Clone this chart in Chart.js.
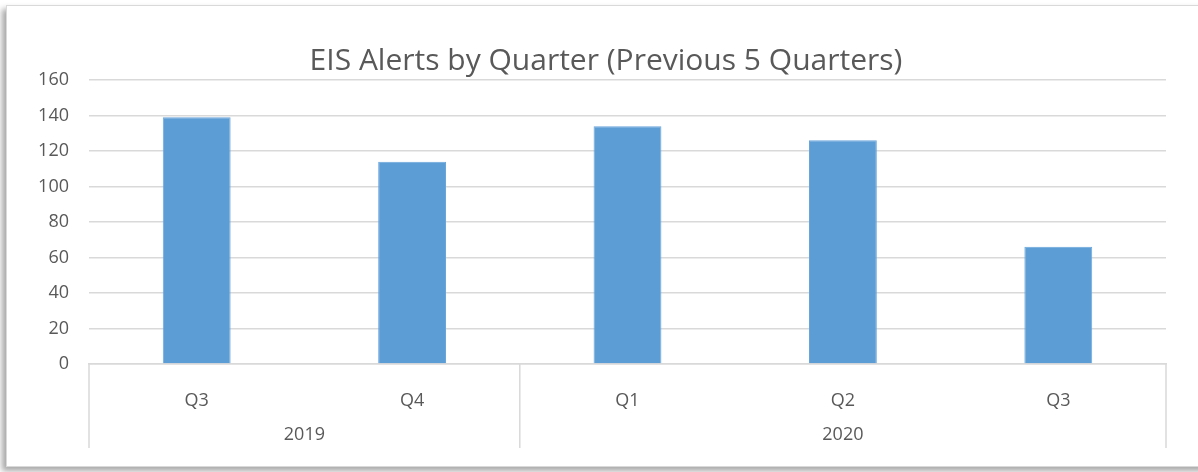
<!DOCTYPE html>
<html>
<head>
<meta charset="utf-8">
<script src="https://cdn.jsdelivr.net/npm/chart.js@4.4.1/dist/chart.umd.min.js"></script>
<style>
  html, body { margin: 0; padding: 0; background: #fff; overflow: hidden; }
  #frame {
    position: absolute; left: 6px; top: 5px; width: 1200px; height: 460px;
    border: 1px solid #d9d9d9; background: #fff;
    box-shadow: -4px 4px 6px rgba(0, 0, 0, 0.35);
  }
  #wrap { position: absolute; left: 0; top: 0; width: 1212px; height: 472px; }
</style>
</head>
<body>
<div id="frame"></div>
<div id="wrap"><canvas id="chart"></canvas></div>
<script>
const quarters = ["Q3", "Q4", "Q1", "Q2", "Q3"];
const years = ["2019", "2019", "2020", "2020", "2020"];
const alerts = [139, 114, 134, 126, 66];

const gridColor = "#d9d9d9";
const textColor = "#595959";
const fontFamily = "'Open Sans', sans-serif";

// second row of the category axis: year groups with separator lines
const yearGroups = {
  id: "yearGroups",
  afterDraw(chart) {
    const { ctx, chartArea, scales } = chart;
    const x = scales.x;
    const half = (x.getPixelForValue(1) - x.getPixelForValue(0)) / 2;
    const top = chartArea.bottom;
    const bottom = top + 84;

    const groups = [];
    years.forEach((y, i) => {
      const last = groups[groups.length - 1];
      if (last && last.label === y) last.end = i;
      else groups.push({ label: y, start: i, end: i });
    });

    ctx.save();
    ctx.strokeStyle = gridColor;
    ctx.lineWidth = 1.5;
    ctx.fillStyle = textColor;
    ctx.font = "18px " + fontFamily;
    ctx.textAlign = "center";
    ctx.textBaseline = "middle";
    groups.forEach((g, gi) => {
      const left = x.getPixelForValue(g.start) - half;
      const right = x.getPixelForValue(g.end) + half;
      if (gi === 0) {
        ctx.beginPath();
        ctx.moveTo(left, top);
        ctx.lineTo(left, bottom);
        ctx.stroke();
      }
      ctx.beginPath();
      ctx.moveTo(right, top);
      ctx.lineTo(right, bottom);
      ctx.stroke();
      ctx.fillText(g.label, (left + right) / 2, top + 71);
    });
    ctx.restore();
  },
};

const chartConfig = {
  type: "bar",
  data: {
    labels: quarters,
    datasets: [
      {
        label: "EIS Alerts",
        data: alerts,
        backgroundColor: "#5d9dd6",
        borderColor: "#6aa6dc",
        borderWidth: 1,
        barPercentage: 0.315,
        categoryPercentage: 1,
      },
    ],
  },
  options: {
    responsive: true,
    maintainAspectRatio: false,
    animation: false,
    layout: { padding: { left: 0, right: 0, top: 0, bottom: 0 } },
    plugins: {
      legend: { display: false },
      tooltip: { enabled: false },
      title: {
        display: true,
        text: "EIS Alerts by Quarter (Previous 5 Quarters)",
        color: textColor,
        font: { family: fontFamily, size: 30, weight: "normal", lineHeight: 1.2 },
        padding: { top: 43.7, bottom: 0.3 },
      },
    },
    scales: {
      x: {
        grid: { display: false },
        border: { display: true, color: gridColor, width: 1.5 },
        ticks: {
          color: textColor,
          font: { family: fontFamily, size: 18 },
          padding: 18,
        },
        afterFit(scale) {
          scale.height = 108;
        },
      },
      y: {
        min: 0,
        max: 160,
        ticks: {
          stepSize: 20,
          color: textColor,
          font: { family: fontFamily, size: 18 },
          padding: 20,
        },
        grid: { color: gridColor, lineWidth: 1.5, drawTicks: false },
        border: { display: false },
        afterFit(scale) {
          scale.width = 89;
        },
      },
      // empty right margin so the title centres like the original
      spacer: {
        type: "linear",
        position: "right",
        display: true,
        ticks: { display: false },
        grid: { display: false },
        border: { display: false },
        afterFit(scale) {
          scale.width = 46;
        },
      },
    },
  },
  plugins: [yearGroups],
};

new Chart(document.getElementById("chart"), chartConfig);
</script>
</body>
</html>
